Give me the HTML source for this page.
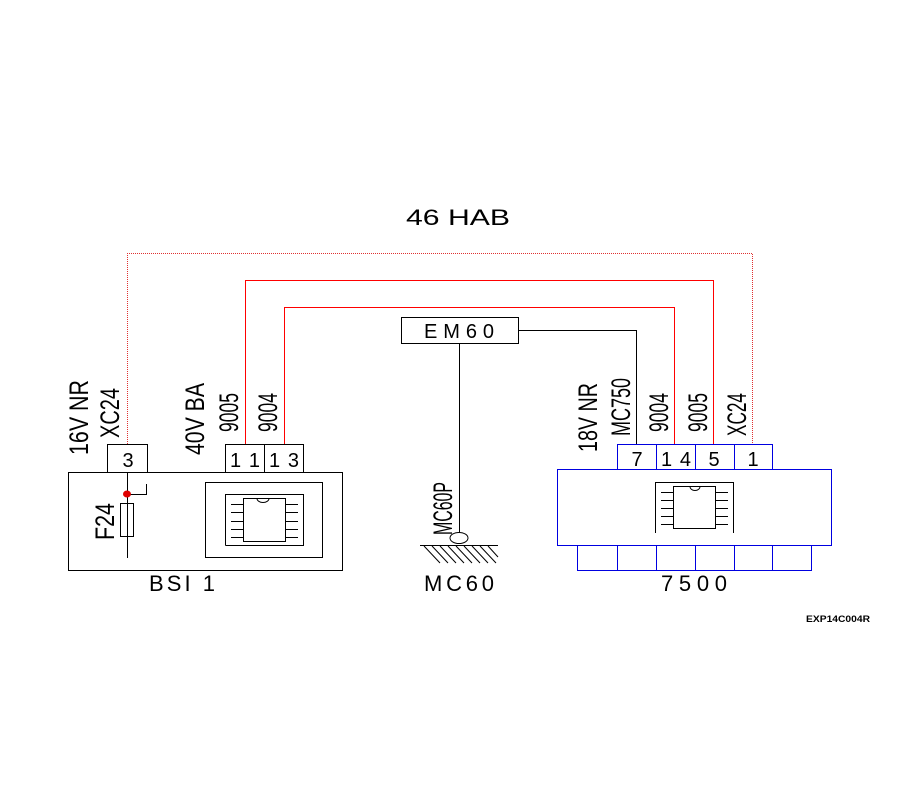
<!DOCTYPE html>
<html><head><meta charset="utf-8"><style>html,body{margin:0;padding:0;background:#fff}svg{display:block}</style></head>
<body>
<svg width="900" height="800" viewBox="0 0 900 800" xmlns="http://www.w3.org/2000/svg" font-family="Liberation Sans, sans-serif">
<rect width="900" height="800" fill="#fff"/>
<g shape-rendering="crispEdges">
<polyline points="127.5,444 127.5,253.5 752.5,253.5 752.5,444" fill="none" stroke="#e03030" stroke-width="1" stroke-dasharray="1,1"/>
<polyline points="245.5,444 245.5,280.5 713.5,280.5 713.5,444" fill="none" stroke="#ff0000" stroke-width="1"/>
<polyline points="284.5,444 284.5,307.5 674.5,307.5 674.5,444" fill="none" stroke="#ff0000" stroke-width="1"/>
<polyline points="518,330.5 636.5,330.5 636.5,444" fill="none" stroke="#000" stroke-width="1"/>
</g>
<text x="458" y="225" font-size="22" text-anchor="middle" textLength="104" lengthAdjust="spacingAndGlyphs">46  HAB</text>

<!-- BSI1 -->
<g fill="none" stroke="#000" stroke-width="1" shape-rendering="crispEdges">
<rect x="68.5" y="472.5" width="274" height="98"/>
<rect x="107.5" y="444.5" width="40" height="28"/>
<rect x="225.5" y="444.5" width="39" height="28"/>
<rect x="264.5" y="444.5" width="39" height="28"/>
<rect x="205.5" y="482.5" width="117" height="75"/>
<polyline points="225.5,545.5 225.5,494.5 303.5,494.5 303.5,545.5 225.5,545.5"/>
<rect x="243.5" y="498.5" width="42" height="43"/>
<path d="M231,504.5h12 M231,512.5h12 M231,521.5h12 M231,529.5h12 M231,537.5h12 M286,504.5h12 M286,512.5h12 M286,521.5h12 M286,529.5h12 M286,537.5h12"/>
<line x1="127.5" y1="472" x2="127.5" y2="558"/>
<rect x="120.5" y="503.5" width="13" height="33"/>
<polyline points="127,494.5 146.5,494.5 146.5,484"/>
</g>
<path d="M257,498.5 a6,4 0 0 0 12,0" fill="none" stroke="#000"/>
<ellipse cx="127" cy="494" rx="4" ry="3.5" fill="#e00000"/>
<g font-size="20" text-anchor="middle">
<text x="128" y="467">3</text>
<text x="245" y="467" textLength="30" lengthAdjust="spacing">1 1</text>
<text x="284" y="467" textLength="30" lengthAdjust="spacing">1 3</text>
<text x="182" y="591" font-size="22" textLength="66" lengthAdjust="spacing">BSI 1</text>
</g>

<!-- 7500 -->
<g fill="none" stroke="#0000e0" stroke-width="1" shape-rendering="crispEdges">
<rect x="617.5" y="444.5" width="155" height="25"/>
<path d="M656.5,444v25 M695.5,444v25 M734.5,444v25"/>
<rect x="557.5" y="469.5" width="274" height="76"/>
<rect x="577.5" y="545.5" width="234" height="25"/>
<path d="M617.5,545v25 M656.5,545v25 M695.5,545v25 M734.5,545v25 M772.5,545v25"/>
</g>
<g fill="none" stroke="#000" stroke-width="1" shape-rendering="crispEdges">
<polyline points="655.5,533 655.5,482.5 733.5,482.5 733.5,533"/>
<rect x="673.5" y="486.5" width="42" height="42"/>
<path d="M661,492.5h12 M661,500.5h12 M661,508.5h12 M661,516.5h12 M661,524.5h12 M716,492.5h12 M716,500.5h12 M716,508.5h12 M716,516.5h12 M716,524.5h12"/>
</g>
<path d="M690,486.5 a5,4 0 0 0 10,0" fill="none" stroke="#000"/>
<g font-size="20" text-anchor="middle">
<text x="637" y="466">7</text>
<text x="676" y="466" textLength="30" lengthAdjust="spacing">1 4</text>
<text x="714" y="466">5</text>
<text x="753" y="466">1</text>
<text x="694" y="591" font-size="22" textLength="66" lengthAdjust="spacing">7500</text>
</g>
<text x="838" y="622" font-size="9" font-weight="bold" text-anchor="middle" textLength="64" lengthAdjust="spacingAndGlyphs">EXP14C004R</text>

<!-- EM60 / MC60 -->
<g fill="none" stroke="#000" stroke-width="1">
<rect x="401.5" y="317.5" width="117" height="26" shape-rendering="crispEdges"/>
<line x1="459.5" y1="343" x2="459.5" y2="533" shape-rendering="crispEdges"/>
<ellipse cx="459" cy="538" rx="9" ry="5.5"/>
<line x1="420" y1="545.5" x2="498" y2="545.5" shape-rendering="crispEdges"/>
<path d="M424,546l16,17 M432,546l16,17 M440,546l16,17 M448,546l16,17 M456,546l16,17 M464,546l16,17 M472,546l16,17 M480,546l16,17 M488,546l10,11"/>
</g>
<text x="459" y="338" font-size="20" text-anchor="middle" textLength="70" lengthAdjust="spacing">EM60</text>
<text x="459" y="591" font-size="22" text-anchor="middle" textLength="70" lengthAdjust="spacing">MC60</text>

<!-- rotated labels -->
<g font-size="27">
<text transform="translate(88,455) rotate(-90)" textLength="75" lengthAdjust="spacingAndGlyphs">16V NR</text>
<text transform="translate(119,438) rotate(-90)" textLength="50" lengthAdjust="spacingAndGlyphs">XC24</text>
<text transform="translate(204,455) rotate(-90)" textLength="72" lengthAdjust="spacingAndGlyphs">40V BA</text>
<text transform="translate(238,432) rotate(-90)" textLength="39" lengthAdjust="spacingAndGlyphs">9005</text>
<text transform="translate(277,432) rotate(-90)" textLength="39" lengthAdjust="spacingAndGlyphs">9004</text>
<text transform="translate(114,540) rotate(-90)" textLength="37" lengthAdjust="spacingAndGlyphs">F24</text>
<text transform="translate(597,452) rotate(-90)" textLength="69" lengthAdjust="spacingAndGlyphs">18V NR</text>
<text transform="translate(630,436) rotate(-90)" textLength="58" lengthAdjust="spacingAndGlyphs">MC750</text>
<text transform="translate(668,432) rotate(-90)" textLength="39" lengthAdjust="spacingAndGlyphs">9004</text>
<text transform="translate(707,432) rotate(-90)" textLength="39" lengthAdjust="spacingAndGlyphs">9005</text>
<text transform="translate(746,436) rotate(-90)" textLength="43" lengthAdjust="spacingAndGlyphs">XC24</text>
<text transform="translate(452,535) rotate(-90)" textLength="53" lengthAdjust="spacingAndGlyphs">MC60P</text>
</g>
</svg>
</body></html>
